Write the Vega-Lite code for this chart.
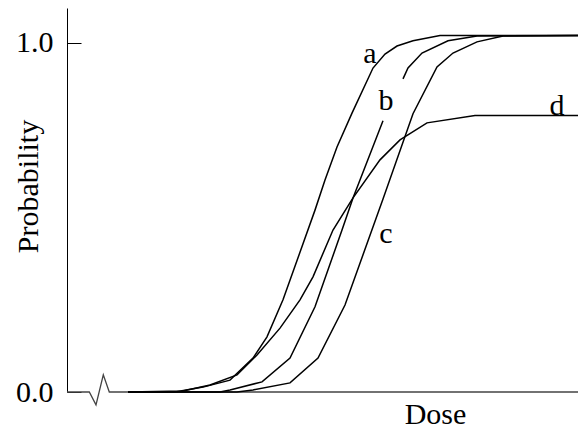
{
  "$schema": "https://vega.github.io/schema/vega-lite/v6.json",
  "width": 511,
  "height": 384,
  "autosize": {"type": "none"},
  "padding": {"left": 67, "top": 8, "right": 0, "bottom": 38},
  "background": "white",
  "config": {
    "view": {"stroke": null},
    "font": "Liberation Serif",
    "axis": {"grid": false, "labelFont": "Liberation Serif", "titleFont": "Liberation Serif", "labelColor": "black", "titleColor": "black", "titleFontWeight": "normal"}
  },
  "datasets": {
    "curves": [
      {"seg": "a", "x": 61, "y": 0}, {"seg": "a", "x": 108, "y": 0}, {"seg": "a", "x": 136, "y": 0.014}, {"seg": "a", "x": 163, "y": 0.034},
      {"seg": "a", "x": 186, "y": 0.097}, {"seg": "a", "x": 200, "y": 0.158}, {"seg": "a", "x": 216, "y": 0.264}, {"seg": "a", "x": 248, "y": 0.521},
      {"seg": "a", "x": 258, "y": 0.607}, {"seg": "a", "x": 270, "y": 0.702}, {"seg": "a", "x": 285, "y": 0.799}, {"seg": "a", "x": 306, "y": 0.928},
      {"seg": "a", "x": 318, "y": 0.968}, {"seg": "a", "x": 330, "y": 0.991}, {"seg": "a", "x": 346, "y": 1.006}, {"seg": "a", "x": 373, "y": 1.021},
      {"seg": "a", "x": 511, "y": 1.021},
      {"seg": "b1", "x": 61, "y": 0}, {"seg": "b1", "x": 153, "y": 0}, {"seg": "b1", "x": 163, "y": 0.006}, {"seg": "b1", "x": 195, "y": 0.029},
      {"seg": "b1", "x": 223, "y": 0.097}, {"seg": "b1", "x": 248, "y": 0.244}, {"seg": "b1", "x": 275, "y": 0.464}, {"seg": "b1", "x": 286, "y": 0.556},
      {"seg": "b1", "x": 316, "y": 0.777},
      {"seg": "b2", "x": 336, "y": 0.897}, {"seg": "b2", "x": 341, "y": 0.928}, {"seg": "b2", "x": 355, "y": 0.971}, {"seg": "b2", "x": 381, "y": 1.006},
      {"seg": "b2", "x": 410, "y": 1.02}, {"seg": "b2", "x": 511, "y": 1.021},
      {"seg": "c", "x": 61, "y": 0}, {"seg": "c", "x": 170, "y": 0}, {"seg": "c", "x": 186, "y": 0.006}, {"seg": "c", "x": 223, "y": 0.026},
      {"seg": "c", "x": 251, "y": 0.097}, {"seg": "c", "x": 278, "y": 0.249}, {"seg": "c", "x": 316, "y": 0.553}, {"seg": "c", "x": 346, "y": 0.797},
      {"seg": "c", "x": 370, "y": 0.931}, {"seg": "c", "x": 386, "y": 0.971}, {"seg": "c", "x": 410, "y": 1.003}, {"seg": "c", "x": 436, "y": 1.02},
      {"seg": "c", "x": 511, "y": 1.021},
      {"seg": "d", "x": 61, "y": 0}, {"seg": "d", "x": 116, "y": 0.003}, {"seg": "d", "x": 143, "y": 0.02}, {"seg": "d", "x": 170, "y": 0.049},
      {"seg": "d", "x": 190, "y": 0.106}, {"seg": "d", "x": 213, "y": 0.183}, {"seg": "d", "x": 233, "y": 0.264}, {"seg": "d", "x": 246, "y": 0.33},
      {"seg": "d", "x": 266, "y": 0.464}, {"seg": "d", "x": 286, "y": 0.556}, {"seg": "d", "x": 313, "y": 0.665}, {"seg": "d", "x": 333, "y": 0.722},
      {"seg": "d", "x": 360, "y": 0.771}, {"seg": "d", "x": 408, "y": 0.792}, {"seg": "d", "x": 511, "y": 0.792}
    ],
    "labels": [
      {"label": "a", "x": 303, "y": 0.943},
      {"label": "b", "x": 319, "y": 0.808},
      {"label": "c", "x": 319, "y": 0.427},
      {"label": "d", "x": 490, "y": 0.794}
    ],
    "baseline": [
      {"x": 0, "y": 0}, {"x": 22.3, "y": 0}, {"x": 29, "y": -0.037}, {"x": 36.3, "y": 0.049}, {"x": 42.3, "y": 0}, {"x": 511, "y": 0}
    ]
  },
  "encoding": {
    "x": {"field": "x", "type": "quantitative", "scale": {"domain": [0, 511], "nice": false, "zero": false},
      "axis": {"domain": false, "ticks": false, "labels": false, "title": "Dose", "titleFontSize": 30, "titleX": 368, "titleY": 31, "titleBaseline": "alphabetic", "titleAlign": "center"}},
    "y": {"field": "y", "type": "quantitative", "scale": {"domain": [0, 1.1], "nice": false},
      "axis": {"values": [0, 1], "format": ".1f", "labelFontSize": 30, "domainColor": "black", "tickColor": "black", "tickSize": -14, "labelPadding": 28,
        "title": "Probability", "titleFontSize": 30, "titleAngle": -90, "titleX": -39, "titleY": 178, "titleBaseline": "middle", "titleAlign": "center"}}
  },
  "layer": [
    {"data": {"name": "baseline"}, "mark": {"type": "line", "color": "#444", "strokeWidth": 1.3}},
    {"data": {"name": "curves"}, "mark": {"type": "line", "color": "black", "strokeWidth": 1.5}, "encoding": {"detail": {"field": "seg"}}},
    {"data": {"name": "labels"}, "mark": {"type": "text", "fontSize": 30, "font": "Liberation Serif", "align": "center", "baseline": "alphabetic", "color": "black"}, "encoding": {"text": {"field": "label"}}}
  ]
}
